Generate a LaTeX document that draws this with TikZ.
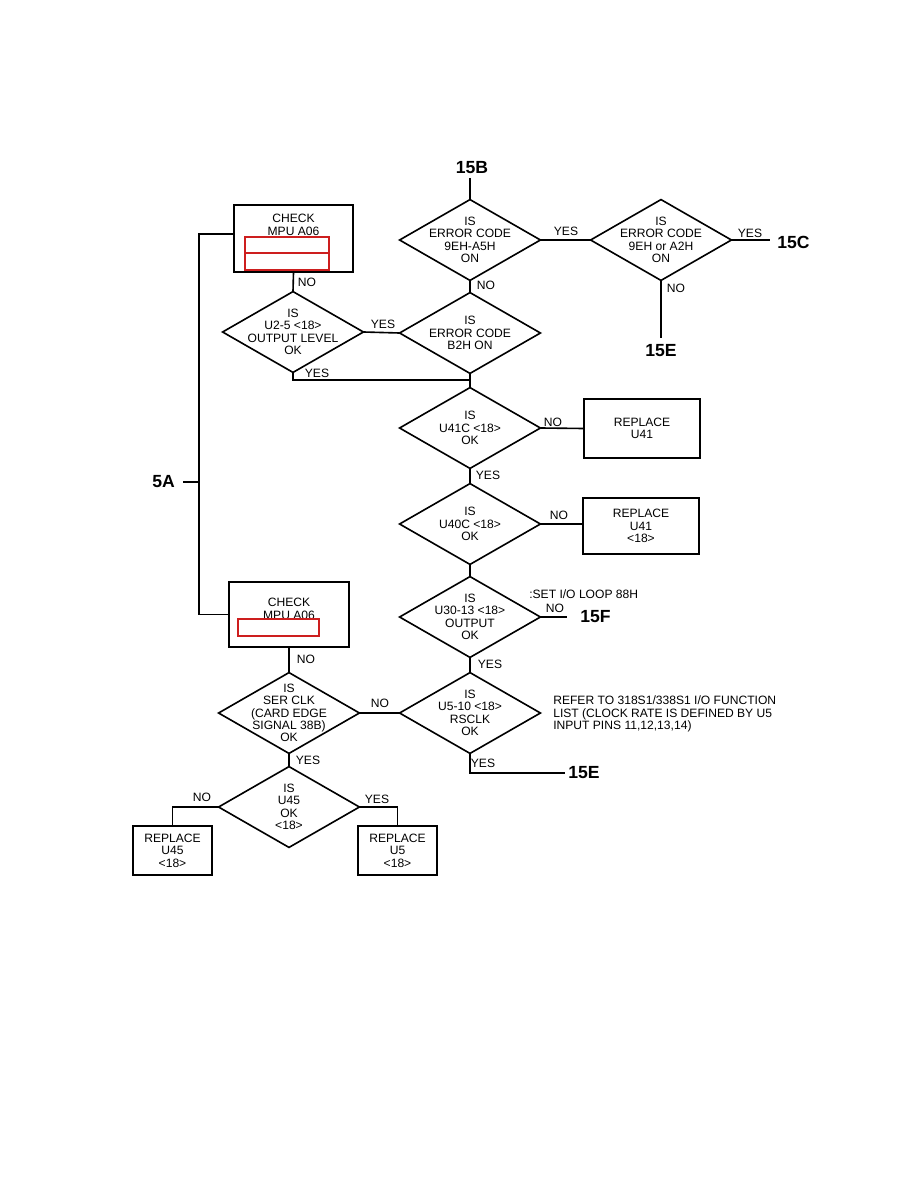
\documentclass[tikz,border=0pt]{standalone}
\usepackage{fontspec}
\setmainfont{Liberation Sans}
\usetikzlibrary{shapes.geometric,positioning}
\definecolor{fcRed}{RGB}{205,30,30}

\begin{document}
\begin{tikzpicture}[x=0.025cm,y=-0.025cm,
  every node/.style={font=\fontsize{8.6}{8.8}\selectfont},
  dia/.style={draw,diamond,inner sep=0pt,outer sep=0pt,
              minimum width=3.52cm,minimum height=2.02cm,line width=1.15pt},
  box/.style={draw,rectangle,inner sep=0pt,outer sep=0pt,align=center,
              line width=1.15pt},
  txt/.style={align=center,inner sep=0pt},
  lbl/.style={inner sep=0pt},
  term/.style={font=\fontsize{12.5}{13}\selectfont\bfseries,inner sep=0pt},
  flow/.style={line width=1.15pt},
  blank/.style={draw=fcRed,line width=1.1pt}
]
\useasboundingbox (0,0) rectangle (918,1188);
% Left column
\node[box,minimum width=2.975cm,minimum height=1.675cm] (chkA) at (293.5,238.5) {};
\node[txt] (chkA-t) at (293.5,225) {CHECK\\MPU A06};
\draw[blank,fill=white] (245,237) rectangle (329,270);
\draw[blank] (245,253) -- (329,253);
\node[dia] (isU2) at (293,332) {};
\node[txt] (isU2-t) at (isU2) {IS\\U2-5 <18>\\OUTPUT LEVEL\\OK};
\node[box,minimum width=3cm,minimum height=1.625cm] (chkB) at (289,614.5) {};
\node[txt] (chkB-t) at (289,609) {CHECK\\MPU A06};
\draw[blank,fill=white] (238,619) rectangle (319,636);
\node[dia] (ser) at (289,713) {};
\node[txt] (ser-t) at (ser) {IS\\SER CLK\\(CARD EDGE\\SIGNAL 38B)\\OK};
\node[dia] (u45) at (289,807) {};
\node[txt] (u45-t) at (u45) {IS\\U45\\OK\\<18>};
\node[box,minimum width=1.975cm,minimum height=1.225cm] (rp45) at (172.5,850.5) {REPLACE\\U45\\<18>};
\node[box,minimum width=1.975cm,minimum height=1.225cm] (rp5) at (397.5,850.5) {REPLACE\\U5\\<18>};
% Main column
\node[dia] (ecA) at (470,240) {};
\node[txt] (ecA-t) at (ecA) {IS\\ERROR CODE\\9EH-A5H\\ON};
\node[dia] (ecB) at (661,240) {};
\node[txt] (ecB-t) at (ecB) {IS\\ERROR CODE\\9EH or A2H\\ON};
\node[dia] (b2h) at (470,333) {};
\node[txt] (b2h-t) at (b2h) {IS\\ERROR CODE\\B2H ON};
\node[dia] (u41c) at (470,428) {};
\node[txt] (u41c-t) at (u41c) {IS\\U41C <18>\\OK};
\node[box,minimum width=2.9cm,minimum height=1.475cm] (rpA) at (642,428.5) {REPLACE\\U41};
\node[dia] (u40c) at (470,524) {};
\node[txt] (u40c-t) at (u40c) {IS\\U40C <18>\\OK};
\node[box,minimum width=2.9cm,minimum height=1.4cm] (rpB) at (641,526) {REPLACE\\U41\\<18>};
\node[dia] (u30) at (470,617) {};
\node[txt] (u30-t) at (u30) {IS\\U30-13 <18>\\OUTPUT\\OK};
\node[dia] (u510) at (470,713) {};
\node[txt] (u510-t) at (u510) {IS\\U5-10 <18>\\RSCLK\\OK};
% Off-page references
\node[term] (t15B) at (472,168) {15B};
\node[term,anchor=west] (t15C) at (777,242) {15C};
\node[term,anchor=north] (t15Ea) at (661,344) {15E};
\node[term,anchor=west] (t15F) at (580,617) {15F};
\node[term,anchor=west] (t15Eb) at (568,773) {15E};
\node[term,anchor=east] (t5A) at (175,482) {5A};
\coordinate (s15B) at (470,178);
\coordinate (e15C) at (770,240);
\coordinate (e15Ea) at (661,338);
\coordinate (e15F) at (567,617);
\coordinate (e15Eb) at (565,773);
\coordinate (e5A) at (183,482);
\coordinate (j5A) at (199,482);
\coordinate (jYes) at (470,380);
% Connectors
\draw[flow] (s15B) -- (ecA.north);
\draw[flow] (ecA.east) -- (ecB.west);
\draw[flow] (ecB.east) -- (e15C);
\draw[flow] (ecB.south) -- (e15Ea);
\draw[flow] (ecA.south) -- (b2h.north);
\draw[flow] (isU2.east) -- (b2h.west);
\draw[flow] (isU2.south) |- (jYes);
\draw[flow] (b2h.south) -- (u41c.north);
\draw[flow] (u41c.east) -- (rpA.west);
\draw[flow] (u41c.south) -- (u40c.north);
\draw[flow] (u40c.east) -- (u40c.east -| rpB.west);
\draw[flow] (u40c.south) -- (u30.north);
\draw[flow] (u30.east) -- (e15F);
\draw[flow] (u30.south) -- (u510.north);
\draw[flow] (u510.south) |- (e15Eb);
\draw[flow] (chkA.south) -- (isU2.north);
\draw[flow] ([yshift=3pt]chkA.west) -| (j5A) |- (chkB.west);
\draw[flow] (e5A) -- (j5A);
\draw[flow] (chkB.south) -- (ser.north);
\draw[flow] (ser.east) -- (u510.west);
\draw[flow] (ser.south) -- (u45.north);
\draw[flow] (u45.west) -| (rp45.north);
\draw[flow] (u45.east) -| (rp5.north);
% Branch labels
\node[lbl] (lNo1) at (307,282) {NO};
\node[lbl] (lYes1) at (383,324) {YES};
\node[lbl] (lYes2) at (317,373) {YES};
\node[lbl] (lNo2) at (486,285) {NO};
\node[lbl] (lYes3) at (566,231) {YES};
\node[lbl] (lYes4) at (750,233) {YES};
\node[lbl] (lNo3) at (676,288) {NO};
\node[lbl] (lNo4) at (553,422) {NO};
\node[lbl] (lYes5) at (488,475) {YES};
\node[lbl] (lNo5) at (559,515) {NO};
\node[lbl] (lNo6) at (555,608) {NO};
\node[lbl] (lYes6) at (490,664) {YES};
\node[lbl] (lYes7) at (483,763) {YES};
\node[lbl] (lNo7) at (306,659) {NO};
\node[lbl] (lNo8) at (380,703) {NO};
\node[lbl] (lYes8) at (308,760) {YES};
\node[lbl] (lNo9) at (202,797) {NO};
\node[lbl] (lYes9) at (377,799) {YES};
% Notes
\node[lbl,anchor=west] (setio) at (529,594) {:SET I/O LOOP 88H};
\node[lbl,anchor=west,align=left] (note) at (553,714)
  {REFER TO 318S1/338S1 I/O FUNCTION\\LIST (CLOCK RATE IS DEFINED BY U5\\INPUT PINS 11,12,13,14)};
\end{tikzpicture}
\end{document}
